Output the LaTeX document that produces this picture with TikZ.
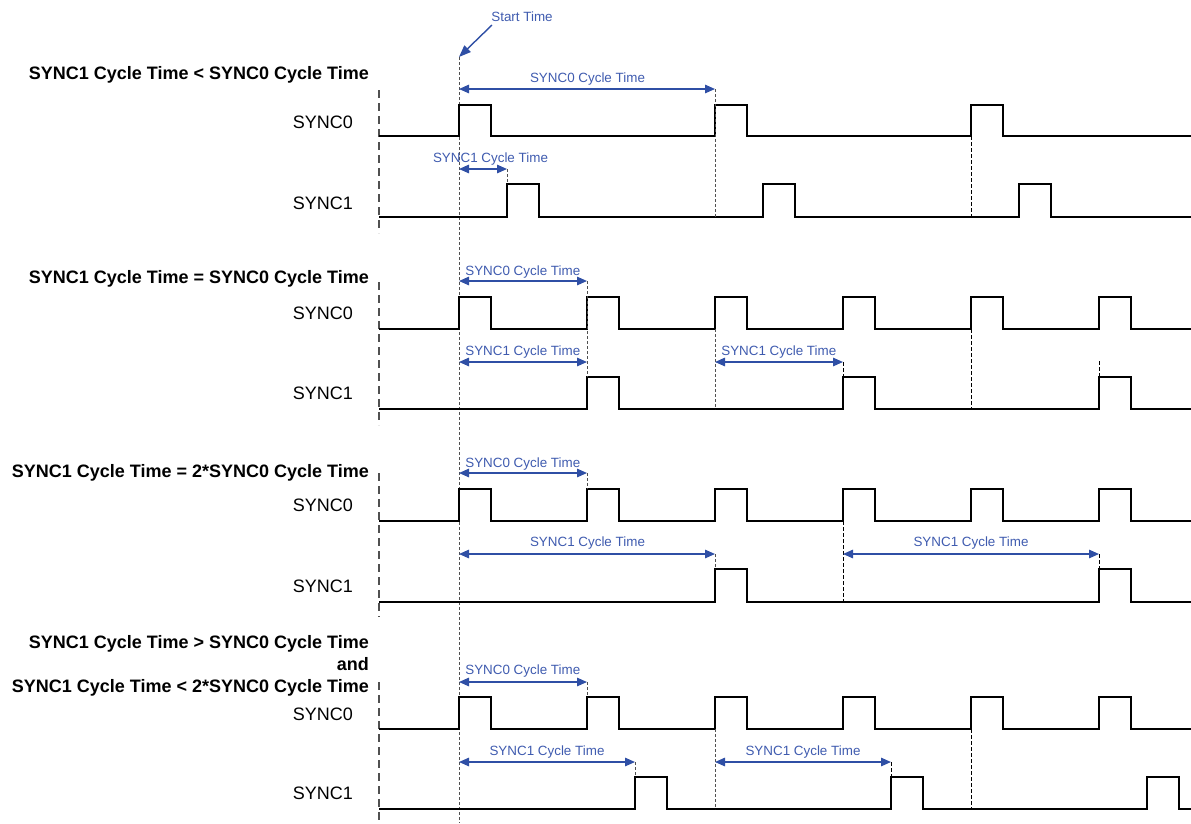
\documentclass[tikz,border=0pt]{standalone}
\usepackage{fontspec}
\setmainfont{Liberation Sans}
\usetikzlibrary{arrows.meta}
\definecolor{arrowblue}{RGB}{47,79,165}
\definecolor{textblue}{RGB}{63,91,175}
\definecolor{dashgray}{RGB}{80,80,80}
\tikzset{
 wave/.style={line width=1.6pt, black, line join=miter},
 dim/.style={arrowblue, line width=1.4pt, {Triangle[length=10pt,width=8.5pt]}-{Triangle[length=10pt,width=8.5pt]}},
 ptr/.style={arrowblue, line width=1.4pt, -{Triangle[length=12pt,width=9pt]}},
 dimlabel/.style={textblue, font=\fontsize{13.4}{15}\selectfont, inner sep=0pt, anchor=base},
 titlelabel/.style={font=\bfseries\fontsize{18}{21}\selectfont, anchor=base east, inner sep=0pt},
 siglabel/.style={font=\fontsize{18}{21}\selectfont, anchor=base east, inner sep=0pt},
 guide/.style={dashgray, line width=1pt, dash pattern=on 3pt off 2pt},
 guideblack/.style={black, line width=1pt, dash pattern=on 4pt off 2pt},
 leftline/.style={dashgray, line width=1.1pt, dash pattern=on 8pt off 5pt},
}
\newcommand\wavetrain[3]{\draw[wave] (379,#1) \foreach \p in {#3} { -- (\p,#1) -- (\p,#2) -- (\p+32,#2) -- (\p+32,#1) } -- (1191,#1);}
\begin{document}
\begin{tikzpicture}[x=1pt,y=-1pt]
\useasboundingbox (0,0) rectangle (1191,823);

% start time
\node[dimlabel] (start) at (522,21) {Start Time};
\coordinate (st0) at (459,57);
\coordinate (st1) at (459,823);
\draw[ptr] (492,25) -- (st0);
\draw[guide] (st0) -- (st1);

% ===== Section 1 =====
\node[titlelabel] (t1) at (369,79) {SYNC1 Cycle Time < SYNC0 Cycle Time};
\node[siglabel] (s1a) at (353,128) {SYNC0};
\node[siglabel] (s1b) at (353,209) {SYNC1};
\draw[leftline] (379,90) -- (379,233);
\wavetrain{136}{105}{459,715,971}
\wavetrain{217}{184}{507,763,1019}
\draw[guide] (715,89) -- (715,217);
\draw[guide] (507,169) -- (507,184);
\draw[guideblack] (971,136) -- (971,217);
\draw[dim] (459,89) -- (715,89);
\node[dimlabel] (d1a) at (587.5,82) {SYNC0 Cycle Time};
\draw[dim] (459,169) -- (507,169);
\node[dimlabel] (d1b) at (490.5,162) {SYNC1 Cycle Time};

% ===== Section 2 =====
\node[titlelabel] (t2) at (369,283) {SYNC1 Cycle Time = SYNC0 Cycle Time};
\node[siglabel] (s2a) at (353,319) {SYNC0};
\node[siglabel] (s2b) at (353,399) {SYNC1};
\draw[leftline] (379,282) -- (379,425);
\wavetrain{329}{297}{459,587,715,843,971,1099}
\wavetrain{409}{377}{587,843,1099}
\draw[guide] (587,281) -- (587,377);
\draw[guide] (715,329) -- (715,409);
\draw[guideblack] (843,362) -- (843,377);
\draw[guideblack] (971,329) -- (971,409);
\draw[guideblack] (1099,361) -- (1099,377);
\draw[dim] (459,281) -- (587,281);
\node[dimlabel] (d2a) at (522.8,275) {SYNC0 Cycle Time};
\draw[dim] (459,362) -- (587,362);
\node[dimlabel] (d2b) at (522.8,355) {SYNC1 Cycle Time};
\draw[dim] (715,362) -- (843,362);
\node[dimlabel] (d2c) at (778.8,355) {SYNC1 Cycle Time};

% ===== Section 3 =====
\node[titlelabel] (t3) at (369,477) {SYNC1 Cycle Time = 2*SYNC0 Cycle Time};
\node[siglabel] (s3a) at (353,511) {SYNC0};
\node[siglabel] (s3b) at (353,592) {SYNC1};
\draw[leftline] (379,473) -- (379,617);
\wavetrain{521}{489}{459,587,715,843,971,1099}
\wavetrain{602}{569}{715,1099}
\draw[guide] (587,473) -- (587,489);
\draw[guide] (715,554) -- (715,569);
\draw[guideblack] (843,521) -- (843,602);
\draw[guideblack] (1099,554) -- (1099,569);
\draw[dim] (459,473) -- (587,473);
\node[dimlabel] (d3a) at (522.8,467) {SYNC0 Cycle Time};
\draw[dim] (459,554) -- (715,554);
\node[dimlabel] (d3b) at (587.5,546) {SYNC1 Cycle Time};
\draw[dim] (843,554) -- (1099,554);
\node[dimlabel] (d3c) at (971,546) {SYNC1 Cycle Time};

% ===== Section 4 =====
\node[titlelabel] (t4a) at (369,648) {SYNC1 Cycle Time > SYNC0 Cycle Time};
\node[titlelabel] (t4b) at (369,670) {and};
\node[titlelabel] (t4c) at (369,692) {SYNC1 Cycle Time < 2*SYNC0 Cycle Time};
\node[siglabel] (s4a) at (353,720) {SYNC0};
\node[siglabel] (s4b) at (353,799) {SYNC1};
\draw[leftline] (379,682) -- (379,823);
\wavetrain{729}{697}{459,587,715,843,971,1099}
\wavetrain{809}{777}{635,891,1147}
\draw[guide] (587,682) -- (587,697);
\draw[guide] (635,762) -- (635,777);
\draw[guide] (715,729) -- (715,809);
\draw[guideblack] (891,762) -- (891,777);
\draw[guideblack] (971,729) -- (971,809);
\draw[dim] (459,682) -- (587,682);
\node[dimlabel] (d4a) at (522.8,674) {SYNC0 Cycle Time};
\draw[dim] (459,762) -- (635,762);
\node[dimlabel] (d4b) at (547,755) {SYNC1 Cycle Time};
\draw[dim] (715,762) -- (891,762);
\node[dimlabel] (d4c) at (803,755) {SYNC1 Cycle Time};
\end{tikzpicture}
\end{document}
